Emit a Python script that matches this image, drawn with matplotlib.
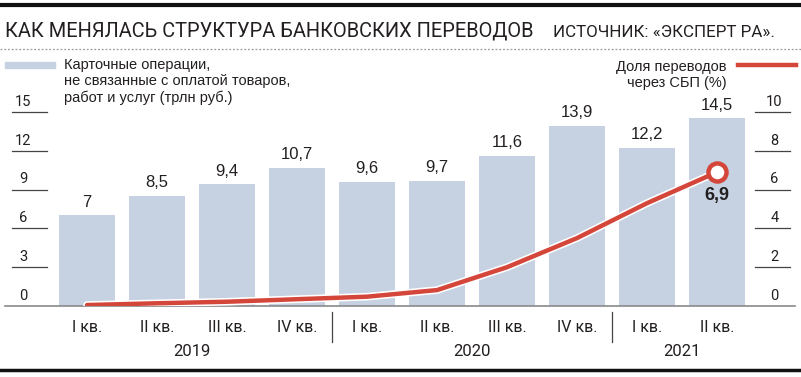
import matplotlib
matplotlib.use("Agg")
import matplotlib.pyplot as plt
import matplotlib.patheffects as pe
from matplotlib.lines import Line2D
from matplotlib.patches import Rectangle

# data
quarters = ["I кв.", "II кв.", "III кв.", "IV кв.", "I кв.", "II кв.",
            "III кв.", "IV кв.", "I кв.", "II кв."]
years = ["2019", "2020", "2021"]
year_span = [(0, 3), (4, 7), (8, 9)]
card_ops = [7, 8.5, 9.4, 10.7, 9.6, 9.7, 11.6, 13.9, 12.2, 14.5]
card_labels = ["7", "8,5", "9,4", "10,7", "9,6", "9,7", "11,6", "13,9", "12,2", "14,5"]
sbp_share = [0.05, 0.14, 0.22, 0.35, 0.48, 0.82, 2.0, 3.5, 5.3, 6.9]
left_ticks = [0, 3, 6, 9, 12, 15]
right_ticks = [0, 2, 4, 6, 8, 10]

BAR = "#c6d1e1"
RED = "#d5463a"
TXT = "#231f20"
SANS = ["Liberation Sans", "DejaVu Sans"]
NARROW = ["Roboto", "Liberation Sans", "DejaVu Sans"]

W, H = 801, 377
fig = plt.figure(figsize=(W / 100, H / 100), dpi=100)
renderer = fig.canvas.get_renderer()


def fx(px):
    return px / W


def fy(py):
    return 1 - py / H


def fit_width(txt, width_px):
    # shrink/grow the font so the text spans the width seen in the picture
    w = txt.get_window_extent(renderer).width
    txt.set_fontsize(txt.get_fontsize() * width_px / w)


# plot axes: x 5..795 px, y 306 (zero) .. 112 (top)
ax = fig.add_axes([fx(5), fy(306), fx(790), (306 - 112) / H])
ax.set_xlim(-82 / 70, 708 / 70)
ax.set_ylim(0, 15)
ax.axis("off")

x = list(range(len(card_ops)))
ax.bar(x, card_ops, width=0.79, color=BAR, zorder=1)
for xi, v, lab in zip(x, card_ops, card_labels):
    ax.text(xi, v + 0.45, lab, ha="center", va="bottom", fontsize=12,
            family=SANS, color=TXT)

# baseline
ax.plot([0, 1], [0, 0], transform=ax.get_yaxis_transform(), color="#8a8a8a",
        lw=1.2, clip_on=False, zorder=3)

# left ticks
for t in left_ticks:
    if t:
        ax.plot([0.0089, 0.0532], [t, t], transform=ax.get_yaxis_transform(),
                color="#444444", lw=0.9, clip_on=False)
    ax.text(0.023, t + 0.25, str(t), transform=ax.get_yaxis_transform(),
            ha="center", va="bottom", fontsize=10.5, family=NARROW, color=TXT)

# right axis for SBP share
ax2 = ax.twinx()
ax2.set_ylim(0, 10)
ax2.axis("off")
for t in right_ticks:
    if t:
        ax2.plot([0.949, 0.9937], [t, t], transform=ax2.get_yaxis_transform(),
                 color="#444444", lw=0.9, clip_on=False)
    ax2.text(0.974, t + 0.17, str(t), transform=ax2.get_yaxis_transform(),
             ha="center", va="bottom", fontsize=10.5, family=NARROW, color=TXT)

ax2.plot(x, sbp_share, color=RED, lw=3.2, solid_capstyle="round", zorder=4,
         path_effects=[pe.Stroke(linewidth=5.5, foreground="white"), pe.Normal()])
ax2.plot(x[-1], sbp_share[-1], "o", ms=13, mfc="white", mec=RED, mew=3.2, zorder=5)
ax2.text(x[-1], sbp_share[-1] - 0.75, "6,9", ha="center", va="top", fontsize=13,
         fontweight="bold", family=SANS, color=TXT, zorder=6)

# x labels
for xi, q in zip(x, quarters):
    ax.text(xi, -1.7, q, ha="center", va="center", fontsize=11.5, family=NARROW,
            color=TXT, clip_on=False)
for (a, b), y in zip(year_span, years):
    ax.text((a + b) / 2, -3.55, y, ha="center", va="center", fontsize=12,
            family=NARROW, color=TXT, clip_on=False)
for sep in [3.5, 7.5]:
    ax.plot([sep, sep], [-0.5, -2.8], color="#444444", lw=0.9, clip_on=False)

# frame lines
fig.add_artist(Line2D([0, 1], [fy(5), fy(5)], color="#111111", lw=3))
fig.add_artist(Line2D([0, 1], [fy(369.5), fy(369.5)], color="#111111", lw=2.5))
fig.add_artist(Line2D([0, 1], [fy(49), fy(49)], color="#9a9a9a", lw=0.9,
                      linestyle=(0, (1.5, 1.5))))

# title
title = fig.text(fx(5), fy(37), "КАК МЕНЯЛАСЬ СТРУКТУРА БАНКОВСКИХ ПЕРЕВОДОВ",
                 ha="left", va="baseline", fontsize=16, family=NARROW, color=TXT)
fit_width(title, 530)
src = fig.text(fx(553), fy(37), "ИСТОЧНИК: «ЭКСПЕРТ РА».", ha="left",
               va="baseline", fontsize=11, family=NARROW, color=TXT)
fit_width(src, 222)

# legend: bars
fig.add_artist(Rectangle((fx(5), fy(68)), fx(50), 6 / H, color=BAR))
fig.text(fx(64), fy(58), "Карточные операции,\nне связанные с оплатой товаров,\n"
         "работ и услуг (трлн руб.)", ha="left", va="top", fontsize=10.5,
         family=SANS, color=TXT, linespacing=1.2)
# legend: line
fig.add_artist(Line2D([fx(738), fx(796)], [fy(65), fy(65)], color=RED, lw=3.2))
fig.text(fx(727), fy(75), "Доля переводов\nчерез СБП (%)", ha="right",
         va="center", fontsize=10.5, family=SANS, color=TXT, linespacing=1.2)

fig.savefig("out.png", dpi=100)
